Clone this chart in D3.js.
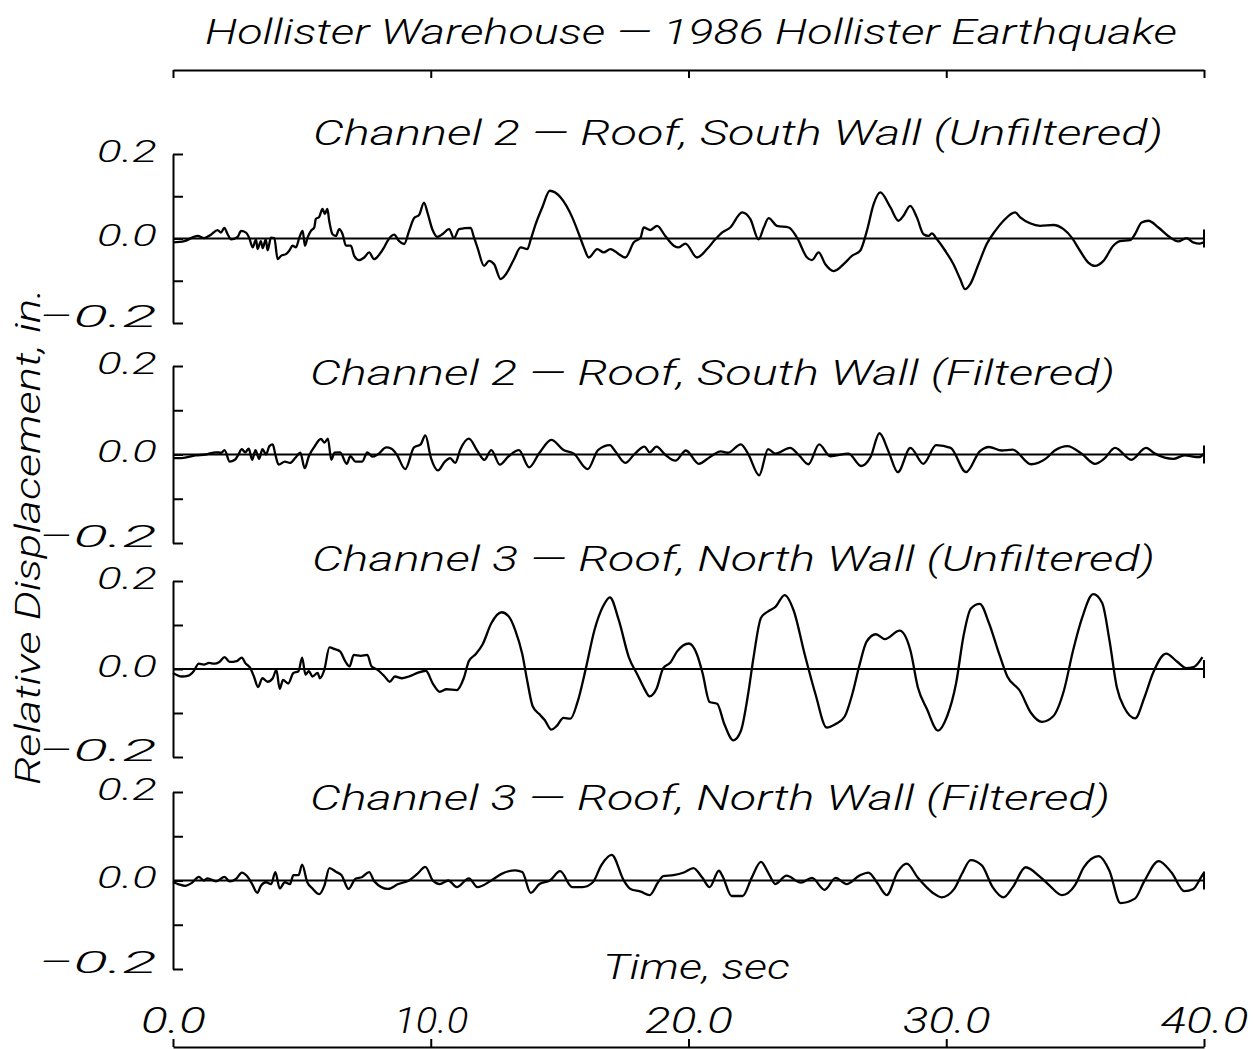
<!DOCTYPE html>
<html>
<head>
<meta charset="utf-8">
<script src="https://cdn.jsdelivr.net/npm/d3@7"></script>
<style>
  html, body { margin: 0; padding: 0; background: #fff; }
  svg { display: block; }
  text { font-family: Roboto, "Liberation Sans", sans-serif; font-style: italic; font-weight: 300; fill: #000; }
</style>
</head>
<body>
<svg id="chart" width="1253" height="1049"></svg>
<script>
// ---------------- DATA ----------------
const chartTitle = "Hollister Warehouse \u2014 1986 Hollister Earthquake";
const yAxisTitle = "Relative Displacement, in.";
const xAxisTitle = "Time, sec";
const panelTitles = [
  "Channel 2 \u2014 Roof, South Wall (Unfiltered)",
  "Channel 2 \u2014 Roof, South Wall (Filtered)",
  "Channel 3 \u2014 Roof, North Wall (Unfiltered)",
  "Channel 3 \u2014 Roof, North Wall (Filtered)"
];
const xTicks = [0, 10, 20, 30, 40];
const xTickLabels = ["0.0", "10.0", "20.0", "30.0", "40.0"];
const yTicks = [0.2, 0.1, 0.0, -0.1, -0.2];
const yTickLabels = ["0.2", "", "0.0", "", "\u22120.2"];

// Channel 2 unfiltered (time s, displacement in.)
const ch2UnfT = [0,0.44,0.96,1.21,1.47,1.73,1.86,1.99,2.12,2.25,2.51,2.64,2.83,2.96,3.09,3.22,3.28,3.41,3.48,3.60,3.67,3.80,3.93,4.06,4.19,4.38,4.51,4.64,4.77,4.90,5.03,5.12,5.22,5.35,5.48,5.54,5.67,5.80,5.89,5.99,6.06,6.19,6.32,6.45,6.58,6.71,6.90,7.03,7.22,7.42,7.61,7.80,7.99,8.19,8.32,8.58,8.77,8.97,9.16,9.35,9.55,9.74,9.87,10.06,10.26,10.45,10.71,10.90,11.10,11.55,11.68,11.81,12.07,12.26,12.46,12.71,12.91,13.23,13.49,13.75,13.88,14.07,14.33,14.62,15.04,15.49,15.75,15.94,16.13,16.46,16.71,16.97,17.30,17.55,17.88,18.14,18.26,18.52,18.78,19.10,19.43,19.62,19.88,20.33,20.72,21.04,21.30,21.62,22.08,22.40,22.72,22.92,23.11,23.43,23.89,24.21,24.60,24.79,25.05,25.31,25.63,26.08,26.34,26.66,26.92,27.18,27.44,27.83,28.15,28.34,28.60,28.86,29.12,29.31,29.44,29.64,29.96,30.28,30.54,30.73,30.93,31.25,31.57,31.90,32.22,32.67,32.87,33.25,33.64,34.16,34.55,34.87,35.19,35.51,35.77,36.10,36.48,36.74,37.13,37.32,37.58,37.84,38.23,38.61,39.00,39.32,39.58,39.84,40.0];
const ch2UnfV = [-0.009,-0.006,0.006,0.001,0.009,0.020,0.014,0.025,0.010,-0.002,0.004,0.018,0.014,0.001,-0.021,-0.002,-0.025,-0.006,-0.023,-0.002,-0.028,0.002,0.001,-0.049,-0.041,-0.037,-0.029,-0.017,-0.021,0.002,0.018,-0.017,0.002,0.018,0.026,0.046,0.051,0.070,0.058,0.070,0.042,0.010,0.006,0.022,0.010,-0.017,-0.017,-0.041,-0.051,-0.045,-0.033,-0.049,-0.039,-0.021,-0.006,0.009,-0.006,-0.013,0.018,0.048,0.056,0.085,0.062,0.022,0.004,0.010,0.022,0.001,0.022,0.025,0.002,-0.021,-0.065,-0.053,-0.061,-0.096,-0.085,-0.049,-0.021,-0.025,-0.002,0.034,0.074,0.113,0.097,0.050,0.010,-0.021,-0.045,-0.025,-0.033,-0.025,-0.037,-0.045,-0.009,0.002,0.026,0.020,0.030,0.006,-0.017,-0.021,-0.012,-0.045,-0.025,-0.002,0.014,0.026,0.062,0.046,-0.002,0.026,0.048,0.030,0.026,0.002,-0.045,-0.051,-0.033,-0.061,-0.077,-0.057,-0.041,-0.029,0.018,0.081,0.109,0.074,0.042,0.054,0.077,0.050,0.010,0.006,0.012,-0.002,-0.029,-0.061,-0.096,-0.120,-0.108,-0.061,-0.013,0.018,0.042,0.062,0.050,0.036,0.030,0.032,0.022,0.002,-0.029,-0.057,-0.065,-0.053,-0.017,-0.006,-0.004,0.010,0.038,0.042,0.026,0.006,-0.007,0.001,-0.009,-0.012,-0.009];

// Channel 2 filtered
const ch2FilT = [0,0.34,0.87,1.27,1.67,1.87,2.00,2.20,2.40,2.54,2.67,2.80,2.94,3.07,3.20,3.34,3.47,3.61,3.74,3.87,3.97,4.10,4.34,4.54,4.74,4.94,5.11,5.27,5.47,5.74,5.88,6.01,6.14,6.27,6.48,6.74,6.88,7.08,7.34,7.54,7.74,7.94,8.28,8.48,8.68,9.01,9.35,9.61,9.79,10.01,10.28,10.55,10.75,10.95,11.15,11.48,11.81,12.08,12.35,12.68,13.02,13.42,13.82,14.22,14.68,15.15,15.55,16.09,16.49,16.95,17.15,17.55,17.89,18.29,18.49,18.76,19.09,19.49,19.90,20.40,20.82,21.25,21.53,22.03,22.31,22.74,23.09,23.37,23.94,24.29,24.65,25.07,25.50,26.21,26.70,27.06,27.41,27.76,28.12,28.61,29.11,29.61,30.17,30.77,31.30,31.66,32.15,32.58,33.29,33.85,34.21,34.70,35.27,35.77,36.12,36.55,37.18,37.75,38.10,38.81,39.24,39.80,40.0];
const ch2FilV = [-0.008,-0.008,-0.002,0,0.005,0.004,0.010,-0.016,-0.012,0,0.012,0.005,0.013,-0.012,0.010,-0.010,0.012,0,0.019,0.023,0,-0.023,-0.016,-0.019,-0.008,0.004,-0.031,-0.004,0.016,0.035,0.027,0.036,-0.012,0.004,0.005,-0.021,-0.004,-0.016,-0.016,0.005,-0.005,0,0.016,0.013,0,-0.033,0.016,0.023,0.043,-0.008,-0.036,-0.016,-0.008,-0.019,0.012,0.036,0.008,-0.012,0.010,-0.023,-0.004,0.010,-0.029,0.004,0.033,0.010,0.002,-0.033,0.010,0.021,0.008,-0.019,0,0.018,0.005,0.018,0,-0.014,0.009,-0.021,-0.006,0.007,0.004,0.023,0.002,-0.047,0.012,0.002,0.015,-0.002,-0.022,0.023,-0.004,0.002,-0.026,-0.006,0.048,0.007,-0.040,0.015,-0.021,0.021,0.015,-0.040,0.007,0.017,0.009,0.011,-0.022,-0.010,0.009,0.019,0.001,-0.021,-0.010,0.015,-0.012,0.015,0.002,-0.010,-0.002,-0.006,0.002];

// Channel 3 unfiltered
const ch3UnfT = [0,0.34,0.60,0.80,1.00,1.20,1.40,1.60,1.80,2.00,2.20,2.47,2.67,2.80,3.00,3.14,3.30,3.47,3.67,3.87,4.01,4.14,4.27,4.47,4.67,4.87,5.01,5.14,5.27,5.41,5.61,5.70,5.87,6.07,6.28,6.48,6.68,6.85,7.01,7.28,7.54,7.70,7.94,8.21,8.41,8.61,8.88,9.15,9.48,9.81,10.08,10.35,10.61,11.01,11.28,11.48,11.75,12.02,12.35,12.75,13.02,13.28,13.55,13.75,13.95,14.22,14.42,14.68,14.88,15.15,15.42,15.69,16.02,16.35,16.69,16.95,17.29,17.69,18.02,18.29,18.49,18.76,19.02,19.29,19.56,20.02,20.33,20.54,20.82,21.11,21.39,21.74,22.03,22.31,22.52,22.81,23.09,23.37,23.73,24.08,24.51,24.93,25.36,25.71,26.06,26.35,26.63,26.91,27.27,27.62,28.19,28.61,28.90,29.25,29.68,30.03,30.38,30.67,30.95,31.30,31.66,32.01,32.37,32.86,33.29,33.71,34.14,34.56,34.92,35.27,35.70,36.05,36.33,36.62,36.90,37.33,37.68,38.03,38.53,38.95,39.31,39.59,39.94];
const ch3UnfV = [-0.009,-0.017,-0.015,-0.005,0.012,0.010,0.014,0.012,0.016,0.027,0.016,0.018,0.026,0.014,0.002,-0.017,-0.041,-0.021,-0.029,-0.021,-0.002,-0.045,-0.025,-0.033,-0.009,-0.005,0.026,-0.013,-0.005,-0.017,-0.009,-0.021,-0.002,0.049,0.045,0.040,0.018,0.006,0.032,0.030,0.032,0.006,-0.002,-0.017,-0.029,-0.017,-0.021,-0.017,-0.009,-0.004,-0.033,-0.052,-0.046,-0.048,-0.021,0.018,0.034,0.057,0.104,0.129,0.120,0.088,0.034,-0.029,-0.084,-0.103,-0.116,-0.138,-0.130,-0.111,-0.113,-0.076,0.002,0.088,0.143,0.163,0.112,0.026,-0.013,-0.045,-0.062,-0.045,0.002,0.014,0.040,0.058,0.033,-0.008,-0.075,-0.079,-0.125,-0.162,-0.141,-0.058,0.025,0.116,0.131,0.141,0.168,0.133,0.033,-0.058,-0.133,-0.125,-0.108,-0.058,0.008,0.062,0.079,0.068,0.087,0.042,-0.042,-0.091,-0.140,-0.108,-0.033,0.075,0.137,0.148,0.104,0.042,-0.017,-0.050,-0.100,-0.120,-0.108,-0.050,0.042,0.116,0.170,0.150,0.066,-0.042,-0.087,-0.112,-0.066,-0.008,0.035,0.017,0.002,0.004,0.027];

// Channel 3 filtered
const ch3FilT = [0,0.20,0.47,0.74,1.00,1.20,1.34,1.67,2.00,2.20,2.47,2.67,2.87,3.07,3.27,3.41,3.61,3.81,3.97,4.14,4.34,4.54,4.67,4.87,5.01,5.21,5.41,5.67,5.87,6.07,6.34,6.54,6.81,7.08,7.34,7.61,7.81,8.34,8.74,9.15,9.48,9.79,10.08,10.35,10.68,11.01,11.48,11.81,12.35,12.75,13.28,13.55,13.88,14.22,14.62,15.02,15.49,15.89,16.29,16.62,17.02,17.49,17.75,18.15,18.49,18.82,19.02,19.42,19.82,20.19,20.54,20.82,21.18,21.32,21.67,22.10,22.45,22.81,23.09,23.37,23.80,24.36,24.79,25.28,25.71,26.13,26.63,26.98,27.34,27.69,28.12,28.47,28.90,29.46,29.82,30.31,30.60,30.95,31.38,31.80,32.22,32.58,33.08,33.64,34.00,34.49,34.99,35.34,35.91,36.33,36.76,37.32,37.68,38.24,38.74,39.24,39.59,39.87,40.0];
const ch3FilV = [-0.004,-0.008,-0.012,-0.005,0.008,0,0.005,-0.002,0.008,-0.002,0.005,0.018,0.010,-0.008,-0.028,-0.012,-0.004,-0.008,0.019,-0.018,-0.004,-0.008,0.012,0.012,0.036,-0.004,-0.018,-0.031,-0.012,0.028,0.019,0.012,-0.019,0.004,0.008,0.019,-0.002,-0.019,-0.008,0,0.015,0.031,0,-0.008,0,-0.015,0.005,-0.015,0,0.015,0.023,0.019,-0.028,-0.008,0,0.021,-0.015,-0.015,-0.004,0.035,0.058,0,-0.019,-0.025,-0.033,-0.004,0.010,0.012,0.018,0.028,0.006,-0.015,0.022,0.010,-0.035,-0.035,0.006,0.042,0.018,-0.008,0.011,-0.005,0.006,-0.021,0.006,-0.008,0.011,0.018,-0.007,-0.033,0.020,0.038,0.006,-0.027,-0.038,-0.019,0.014,0.046,0.034,-0.015,-0.038,-0.015,0.030,0.008,-0.011,-0.033,-0.011,0.030,0.055,0.022,-0.051,-0.041,-0.002,0.044,0.018,-0.024,-0.019,0.006,0.018];

const seriesT = [ch2UnfT, ch2FilT, ch3UnfT, ch3FilT];
const seriesV = [ch2UnfV, ch2FilV, ch3UnfV, ch3FilV];

// ---------------- LAYOUT ----------------
const svg = d3.select("#chart");
const xLeft = 173, xRight = 1204;
const panelRanges = [[154, 323], [366, 543], [581, 757], [792, 969]];
const x = d3.scaleLinear().domain([0, 40]).range([xLeft, xRight]);

// Title
svg.append("text").attr("x", 205).attr("y", 44).attr("font-size", 35)
  .attr("textLength", 972).attr("lengthAdjust", "spacingAndGlyphs").text(chartTitle);

// Top axis
const topAxis = svg.append("g").attr("transform", "translate(0,70)")
  .call(d3.axisBottom(x).tickValues(xTicks).tickSizeInner(8).tickSizeOuter(0).tickFormat(""));
topAxis.selectAll("path, line").attr("stroke", "#000").attr("stroke-width", 2);

// Bottom axis
const botAxis = svg.append("g").attr("transform", "translate(0,1047)")
  .call(d3.axisTop(x).tickValues(xTicks).tickSizeInner(8).tickSizeOuter(0).tickPadding(6)
    .tickFormat((d, k) => xTickLabels[k]));
botAxis.selectAll("path, line").attr("stroke", "#000").attr("stroke-width", 2);
botAxis.selectAll("text").attr("font-size", 36).style("font-family", "Roboto, sans-serif")
  .attr("fill", "#000")
  .attr("textLength", (d, k) => xTickLabels[k].length === 3 ? 65 : (xTickLabels[k][0] === "1" ? 74 : 88))
  .attr("lengthAdjust", "spacingAndGlyphs");

// X title
svg.append("text").attr("x", 603).attr("y", 979).attr("font-size", 35)
  .attr("textLength", 187).attr("lengthAdjust", "spacingAndGlyphs").text(xAxisTitle);

// Y title
svg.append("text").attr("transform", "translate(40,785) rotate(-90)").attr("font-size", 35)
  .attr("textLength", 497).attr("lengthAdjust", "spacingAndGlyphs").text(yAxisTitle);

const titleGeom = [
  {x: 313, y: 145, w: 850},
  {x: 310, y: 385, w: 805},
  {x: 312, y: 571, w: 843},
  {x: 310, y: 810, w: 800}
];

const line = d3.line().curve(d3.curveMonotoneX);

panelRanges.forEach((r, i) => {
  const y = d3.scaleLinear().domain([-0.2, 0.2]).range([r[1], r[0]]);
  const g = svg.append("g");

  // y axis
  const ax = g.append("g").attr("transform", `translate(${xLeft},0)`)
    .call(d3.axisLeft(y).tickValues(yTicks).tickSizeInner(-10).tickSizeOuter(0).tickPadding(16)
      .tickFormat((d, k) => yTickLabels[k]));
  ax.selectAll("path, line").attr("stroke", "#000").attr("stroke-width", 2);
  ax.selectAll(".tick text")
    .attr("font-size", 32).attr("fill", "#000")
    .attr("dy", d => d < -0.15 ? "0.12em" : "0.22em")
    .style("font-family", "Roboto, sans-serif")
    .each(function(d, k) {
      const s = yTickLabels[k];
      if (s) d3.select(this).attr("textLength", s.length === 3 ? 60 : 119)
        .attr("lengthAdjust", "spacingAndGlyphs");
    });

  // zero line
  g.append("line").attr("x1", x(0)).attr("x2", x(40)).attr("y1", y(0)).attr("y2", y(0))
    .attr("stroke", "#000").attr("stroke-width", 2);
  // right end marker
  g.append("line").attr("x1", x(40)).attr("x2", x(40)).attr("y1", y(0) - 9).attr("y2", y(0) + 9)
    .attr("stroke", "#000").attr("stroke-width", 2);

  // trace
  const pts = seriesT[i].map((t, k) => [x(t), y(seriesV[i][k])]);
  g.append("path").attr("d", line(pts)).attr("fill", "none")
    .attr("stroke", "#000").attr("stroke-width", 2.3).attr("stroke-linejoin", "round");

  // panel title
  const tg = titleGeom[i];
  g.append("text").attr("x", tg.x).attr("y", tg.y).attr("font-size", 35)
    .attr("textLength", tg.w).attr("lengthAdjust", "spacingAndGlyphs").text(panelTitles[i]);
});
</script>
</body>
</html>
